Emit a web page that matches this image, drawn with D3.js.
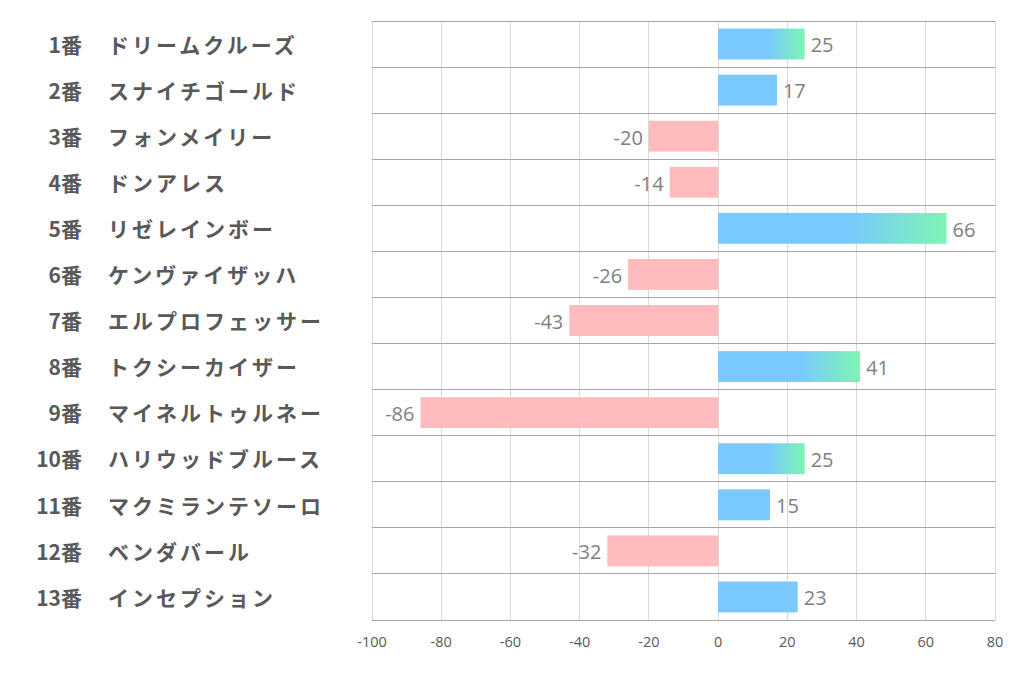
<!DOCTYPE html>
<html><head><meta charset="utf-8">
<script src="https://cdn.jsdelivr.net/npm/d3@7"></script>
<style>html,body{margin:0;padding:0;background:#fff;}</style>
</head><body>
<svg id="chart" width="1022" height="678"></svg>
<script>
const numbers = ["1番","2番","3番","4番","5番","6番","7番","8番","9番","10番","11番","12番","13番"];
const names = ["ドリームクルーズ","スナイチゴールド","フォンメイリー","ドンアレス","リゼレインボー","ケンヴァイザッハ","エルプロフェッサー","トクシーカイザー","マイネルトゥルネー","ハリウッドブルース","マクミランテソーロ","ベンダバール","インセプション"];
const values = [25,17,-20,-14,66,-26,-43,41,-86,25,15,-32,23];
const gradientBars = [true,false,false,false,true,false,false,true,false,true,false,false,false];
const xTicks = [-100,-80,-60,-40,-20,0,20,40,60,80];

const svg = d3.select("#chart");
const L = 372, R = 995, T = 21, B = 620;
const x = d3.scaleLinear().domain([-100,80]).range([L,R]);
const y = d3.scaleBand().domain(d3.range(values.length)).range([T,B]).paddingInner(0.33).paddingOuter(0.165);
const rowH = (B-T)/values.length;

const defs = svg.append("defs");
values.forEach((v,i)=>{
  if(gradientBars[i]){
    const g = defs.append("linearGradient").attr("id","grad"+i).attr("x1","0%").attr("x2","100%").attr("y1","0%").attr("y2","0%");
    g.append("stop").attr("offset","0%").attr("stop-color","#79C8FF");
    g.append("stop").attr("offset","57%").attr("stop-color","#79C8FF");
    g.append("stop").attr("offset","100%").attr("stop-color","#7DF5B3");
  }
});

// vertical gridlines
svg.append("g").selectAll("line").data(xTicks).join("line")
  .attr("x1",d=>x(d)).attr("x2",d=>x(d)).attr("y1",T).attr("y2",B)
  .attr("stroke","#d9d9d9").attr("stroke-width",1).attr("shape-rendering","crispEdges");
// horizontal gridlines
svg.append("g").selectAll("line").data(d3.range(values.length+1)).join("line")
  .attr("x1",L).attr("x2",R).attr("y1",d=>T+d*rowH).attr("y2",d=>T+d*rowH)
  .attr("stroke","#a6a6a6").attr("stroke-width",1).attr("shape-rendering","crispEdges");

// bars
svg.append("g").selectAll("rect").data(values).join("rect")
  .attr("x",d=>x(Math.min(0,d))).attr("width",d=>Math.abs(x(d)-x(0)))
  .attr("y",(d,i)=>y(i)).attr("height",y.bandwidth())
  .attr("fill",(d,i)=> d<0 ? "#FFBBBE" : (gradientBars[i] ? "url(#grad"+i+")" : "#79C8FF"));

// value labels
svg.append("g").selectAll("text").data(values).join("text")
  .attr("x",d=> d>=0 ? x(d)+6 : x(d)-6)
  .attr("y",(d,i)=>y(i)+y.bandwidth()/2+3)
  .attr("text-anchor",d=> d>=0 ? "start":"end")
  .attr("dominant-baseline","middle")
  .attr("font-family","'Open Sans','Noto Sans',sans-serif").attr("font-size",20)
  .attr("fill","#7f7f7f").text(d=>d);

// x axis labels
svg.append("g").selectAll("text").data(xTicks).join("text")
  .attr("x",d=>x(d)).attr("y",643).attr("text-anchor","middle").attr("dominant-baseline","middle")
  .attr("font-family","'Open Sans','Noto Sans',sans-serif").attr("font-size",14.5)
  .attr("fill","#595959").text(d=>d);

// category labels
const cat = svg.append("g").attr("font-family","'Noto Sans CJK JP',sans-serif").attr("font-weight","bold").attr("font-size",21).attr("fill","#595959");
cat.selectAll("text.num").data(numbers).join("text").attr("class","num")
  .attr("x",82).attr("y",(d,i)=>T+(i+0.5)*rowH+3).attr("text-anchor","end").attr("dominant-baseline","middle").text(d=>d);
cat.selectAll("text.name").data(names).join("text").attr("class","name")
  .attr("x",108).attr("y",(d,i)=>T+(i+0.5)*rowH+3).attr("text-anchor","start").attr("dominant-baseline","middle")
  .attr("letter-spacing",3).text(d=>d);
</script>
</body></html>
